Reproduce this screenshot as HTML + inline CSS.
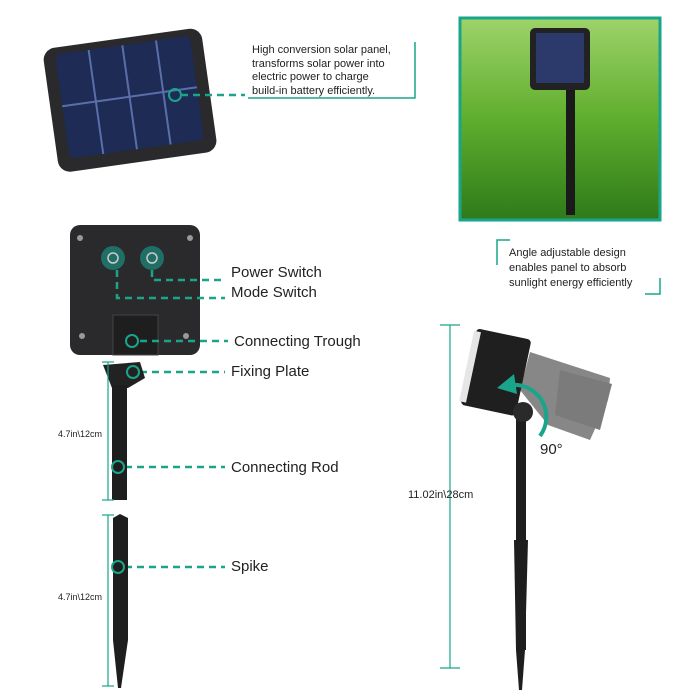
<!DOCTYPE html>
<html><head><style>
body{margin:0;width:700px;height:700px;background:#fff;position:relative;overflow:hidden;font-family:"Liberation Sans",sans-serif;color:#222}
.t{position:absolute;white-space:nowrap}
</style></head><body>
<svg width="700" height="700" style="position:absolute;left:0;top:0">
<defs>
<linearGradient id="grass" x1="0" y1="0" x2="0" y2="1"><stop offset="0" stop-color="#9ed36a"/><stop offset="0.5" stop-color="#5fae2e"/><stop offset="1" stop-color="#2f7a1a"/></linearGradient>
</defs>
<g transform="rotate(-8 128 100)">
<rect x="50" y="38" width="160" height="125" rx="12" fill="#2a2a2c"/>
<rect x="62" y="45" width="136" height="105" rx="6" fill="#1d2b55"/>
<g stroke="#5a6fa8" stroke-width="2"><line x1="96" y1="45" x2="96" y2="150"/><line x1="130" y1="45" x2="130" y2="150"/><line x1="164" y1="45" x2="164" y2="150"/><line x1="62" y1="97" x2="198" y2="97"/></g>
</g>
<circle cx="175" cy="95" r="6" fill="none" stroke="#1aa58a" stroke-width="2"/>
<line x1="181" y1="95" x2="245" y2="95" stroke="#1aa58a" stroke-width="2.5" stroke-dasharray="7,5"/>
<polyline points="248,98 415,98 415,42" fill="none" stroke="#1aa58a" stroke-width="1.5"/>
<rect x="460" y="18" width="200" height="202" fill="url(#grass)" stroke="#1aa58a" stroke-width="3"/>
<rect x="530" y="28" width="60" height="62" rx="5" fill="#222"/>
<rect x="536" y="33" width="48" height="50" fill="#2b3a6a"/>
<rect x="566" y="90" width="9" height="125" fill="#1a1a1a"/>
<polyline points="497,265 497,240 510,240" fill="none" stroke="#1aa58a" stroke-width="1.5"/>
<polyline points="645,294 660,294 660,278" fill="none" stroke="#1aa58a" stroke-width="1.5"/>
<rect x="70" y="225" width="130" height="130" rx="10" fill="#2a2a2c"/>
<circle cx="80" cy="238" r="3" fill="#999"/><circle cx="190" cy="238" r="3" fill="#999"/><circle cx="82" cy="336" r="3" fill="#999"/><circle cx="186" cy="336" r="3" fill="#999"/>
<circle cx="113" cy="258" r="12" fill="#1f6f66"/><circle cx="152" cy="258" r="12" fill="#1f6f66"/>
<circle cx="113" cy="258" r="5" fill="none" stroke="#ccc" stroke-width="1.5"/><circle cx="152" cy="258" r="5" fill="none" stroke="#ccc" stroke-width="1.5"/>
<rect x="113" y="315" width="45" height="40" fill="#1e1e1e" stroke="#444"/>
<g stroke="#1aa58a" stroke-width="2.5" fill="none" stroke-dasharray="7,5">
<polyline points="152,270 152,280 225,280"/>
<polyline points="117,270 117,298 225,298"/>
<line x1="140" y1="341" x2="228" y2="341"/>
<line x1="140" y1="372" x2="225" y2="372"/>
<line x1="125" y1="467" x2="225" y2="467"/>
<line x1="125" y1="567" x2="225" y2="567"/>
</g>
<path d="M103 365 L140 362 L145 378 L128 388 L112 388 Z" fill="#222"/>
<rect x="112" y="385" width="15" height="115" fill="#1e1e1e"/>
<path d="M113 518 L120 514 L128 518 L128 640 L121 688 L118 688 L113 640 Z" fill="#1e1e1e"/>
<g fill="none" stroke="#1aa58a" stroke-width="2"><circle cx="133" cy="372" r="6"/><circle cx="118" cy="467" r="6"/><circle cx="118" cy="567" r="6"/><circle cx="132" cy="341" r="6"/></g>
<g stroke="#1aa58a" stroke-width="1.2"><line x1="108" y1="362" x2="108" y2="500"/><line x1="102" y1="362" x2="114" y2="362"/><line x1="102" y1="500" x2="114" y2="500"/>
<line x1="108" y1="515" x2="108" y2="686"/><line x1="102" y1="515" x2="114" y2="515"/><line x1="102" y1="686" x2="114" y2="686"/>
<line x1="450" y1="325" x2="450" y2="668"/><line x1="440" y1="325" x2="460" y2="325"/><line x1="440" y1="668" x2="460" y2="668"/></g>
<g opacity="0.7"><polygon points="530,352 610,378 608,400 590,440 548,425 520,390" fill="#555"/><polygon points="560,370 612,384 600,430 555,415" fill="#444"/></g>
<g transform="rotate(12 495 372)">
<rect x="468" y="333" width="56" height="78" rx="4" fill="#1f1f1f"/>
<rect x="466" y="336" width="7" height="72" fill="#e6e6e6"/>
</g>
<rect x="516" y="405" width="10" height="245" fill="#1e1e1e"/>
<path d="M514 540 L528 540 L525 650 L522 690 L519 690 L516 650 Z" fill="#1e1e1e"/>
<circle cx="523" cy="412" r="10" fill="#2a2a2a"/>
<path d="M540 436 A32 32 0 0 0 512 385" fill="none" stroke="#1aa58a" stroke-width="4"/>
<polygon points="497,388 514,374 517,394" fill="#1aa58a"/>
</svg>
<div class="t" style="left:252px;top:44px;font-size:11px;line-height:13.5px">High conversion solar panel,<br>transforms solar power into<br>electric power to charge<br>build-in battery efficiently.</div>
<div class="t" style="left:509px;top:246px;font-size:11px;line-height:15px">Angle adjustable design<br>enables panel to absorb<br>sunlight energy efficiently</div>
<div class="t" style="left:231px;top:264px;font-size:15px">Power Switch</div>
<div class="t" style="left:231px;top:284px;font-size:15px">Mode Switch</div>
<div class="t" style="left:234px;top:333px;font-size:15px">Connecting Trough</div>
<div class="t" style="left:231px;top:363px;font-size:15px">Fixing Plate</div>
<div class="t" style="left:231px;top:459px;font-size:15px">Connecting Rod</div>
<div class="t" style="left:231px;top:558px;font-size:15px">Spike</div>
<div class="t" style="left:58px;top:429px;font-size:9px">4.7in\12cm</div>
<div class="t" style="left:58px;top:592px;font-size:9px">4.7in\12cm</div>
<div class="t" style="left:408px;top:489px;font-size:11px">11.02in\28cm</div>
<div class="t" style="left:540px;top:441px;font-size:15px">90°</div>
</body></html>
